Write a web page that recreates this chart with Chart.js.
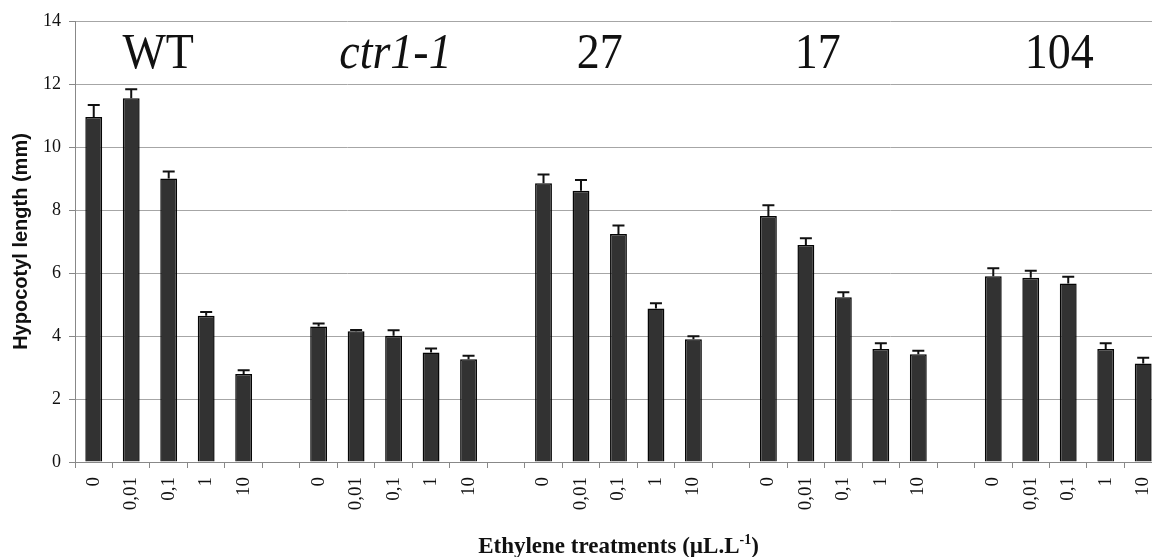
<!DOCTYPE html>
<html>
<head>
<meta charset="utf-8">
<script src="https://cdn.jsdelivr.net/npm/chart.js@4.4.1/dist/chart.umd.min.js"></script>
<style>
  html, body { margin: 0; padding: 0; background: #fff; overflow: hidden; }
  .graph { position: relative; width: 1175px; height: 557px; }
</style>
</head>
<body>
<div class="graph"><canvas id="chart"></canvas></div>
<script>
// ethylene doses (uL/L) and the five lines
const doses = ["0", "0,01", "0,1", "1", "10"];
const lines = ["WT", "ctr1-1", "27", "17", "104"];

// hypocotyl length means (mm) and standard errors, one array per line
const wtMeans   = [10.95, 11.55, 9.00, 4.64, 2.79];
const wtErr     = [0.38, 0.28, 0.22, 0.12, 0.12];
const ctrMeans  = [4.30, 4.15, 4.01, 3.48, 3.26];
const ctrErr    = [0.10, 0.04, 0.17, 0.12, 0.11];
const l27Means  = [8.85, 8.61, 7.24, 4.87, 3.90];
const l27Err    = [0.28, 0.34, 0.27, 0.17, 0.09];
const l17Means  = [7.81, 6.89, 5.23, 3.59, 3.42];
const l17Err    = [0.34, 0.21, 0.16, 0.18, 0.11];
const l104Means = [5.90, 5.85, 5.67, 3.59, 3.13];
const l104Err   = [0.25, 0.22, 0.21, 0.18, 0.18];

const yTicks = [0, 2, 4, 6, 8, 10, 12, 14];

// flatten into one category axis, with an empty slot between lines
const groups = [
  [wtMeans, wtErr], [ctrMeans, ctrErr], [l27Means, l27Err],
  [l17Means, l17Err], [l104Means, l104Err]
];
let labels = [], means = [], errs = [];
groups.forEach(([m, e], g) => {
  if (g > 0) { labels.push(""); means.push(null); errs.push(null); }
  doses.forEach((d, i) => { labels.push(d); means.push(m[i]); errs.push(e[i]); });
});

const errorBars = {
  id: "errorBars",
  afterDatasetsDraw(chart) {
    const ctx = chart.ctx;
    const y = chart.scales.y;
    ctx.save();
    ctx.strokeStyle = "#111";
    ctx.lineWidth = 2;
    chart.getDatasetMeta(0).data.forEach((bar, i) => {
      if (means[i] == null) return;
      const top = y.getPixelForValue(means[i] + errs[i]);
      ctx.beginPath();
      ctx.moveTo(bar.x, bar.y);
      ctx.lineTo(bar.x, top);
      ctx.moveTo(bar.x - 6, top);
      ctx.lineTo(bar.x + 6, top);
      ctx.stroke();
    });
    ctx.restore();
  }
};

// line names above the bars, and the x title with its superscript
const annotations = {
  id: "annotations",
  afterDraw(chart) {
    const ctx = chart.ctx;
    const x = chart.scales.x, y = chart.scales.y;
    const where = [1.72, 8.05, 13.5, 19.32, 25.76];
    ctx.save();
    ctx.fillStyle = "#111";
    ctx.textAlign = "center";
    ctx.textBaseline = "alphabetic";
    lines.forEach((name, i) => {
      ctx.font = (name === "ctr1-1" ? "italic " : "") + "46px 'Liberation Serif'";
      ctx.save();
      ctx.translate(x.getPixelForValue(where[i]), y.getPixelForValue(12.5));
      ctx.scale(1, 1.12);
      ctx.fillText(name, 0, 0);
      ctx.restore();
    });

    const main = "Ethylene treatments (\u00b5L.L";
    const sup = "-1";
    const close = ")";
    const big = "bold 23px 'Liberation Serif'", small = "bold 14px 'Liberation Serif'";
    ctx.font = big;
    const w1 = ctx.measureText(main).width, w3 = ctx.measureText(close).width;
    ctx.font = small;
    const w2 = ctx.measureText(sup).width;
    let cx = x.getPixelForValue(14) - (w1 + w2 + w3) / 2;
    const base = 553;
    ctx.textAlign = "left";
    ctx.font = big;
    ctx.fillText(main, cx, base);
    ctx.font = small;
    ctx.fillText(sup, cx + w1, base - 9);
    ctx.font = big;
    ctx.fillText(close, cx + w1 + w2, base);
    ctx.restore();
  }
};

new Chart(document.getElementById("chart"), {
  type: "bar",
  data: {
    labels: labels,
    datasets: [{
      data: means,
      backgroundColor: "#323232",
      borderColor: "#050505",
      borderWidth: 1.5,
      barPercentage: 0.45,
      categoryPercentage: 1.0
    }]
  },
  options: {
    responsive: true,
    maintainAspectRatio: false,
    animation: false,
    layout: { padding: { top: 21, left: 0, right: 0, bottom: 0 } },
    plugins: { legend: { display: false }, tooltip: { enabled: false } },
    scales: {
      x: {
        afterFit(scale) { scale.height = 95; },
        grid: { drawOnChartArea: false, drawTicks: true, tickLength: 6, color: "#888", offset: true },
        border: { color: "#888" },
        ticks: {
          autoSkip: false, minRotation: 90, maxRotation: 90, padding: 9,
          color: "#111", font: { family: "Liberation Serif", size: 19 }
        }
      },
      y: {
        min: 0, max: 14,
        afterFit(scale) { scale.width = 75; },
        afterBuildTicks(scale) { scale.ticks = yTicks.map(v => ({ value: v })); },
        grid: { color: "#a6a6a6", tickLength: 6, tickColor: "#888" },
        border: { color: "#888" },
        ticks: { padding: 8, color: "#111", font: { family: "Liberation Serif", size: 18 } },
        title: {
          display: true, text: "Hypocotyl length (mm)", color: "#111",
          padding: { top: 9, bottom: 0 },
          font: { family: "Liberation Sans", size: 20, weight: "bold" }
        }
      }
    }
  },
  plugins: [errorBars, annotations]
});
</script>
</body>
</html>
